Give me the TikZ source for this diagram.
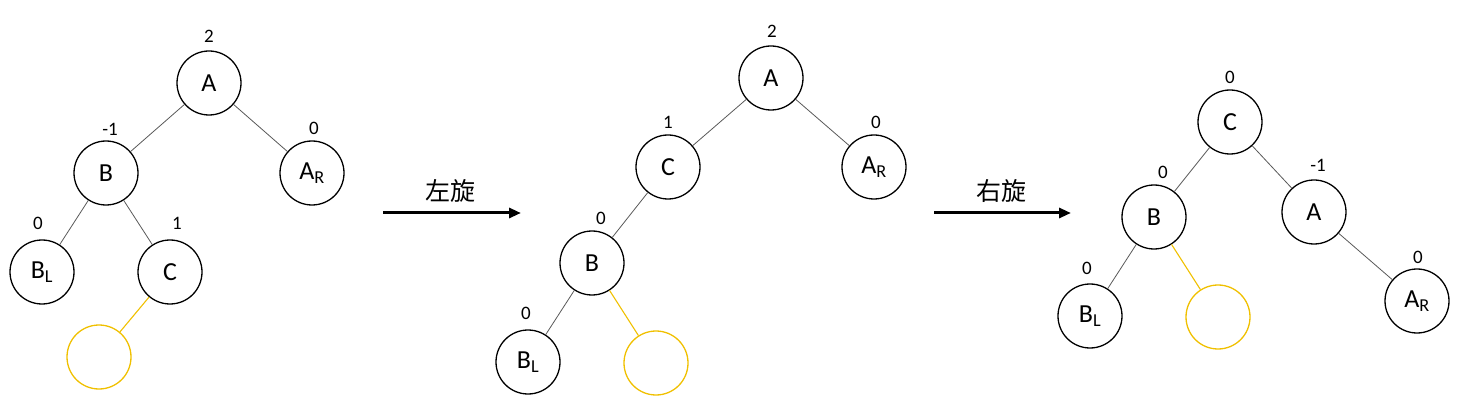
\documentclass[tikz,border=0pt]{standalone}
\usepackage{fontspec}
\setmainfont{Carlito}
\newfontfamily\cjk{Noto Sans CJK SC}
\usetikzlibrary{arrows.meta}

\definecolor{holeyellow}{RGB}{240,192,0}

\tikzset{
    vtx/.style={circle, draw=black, line width=1.3pt, minimum size=64pt, inner sep=0pt, font=\fontsize{26}{28}\selectfont},
    hole/.style={circle, draw=holeyellow, line width=1.3pt, minimum size=64pt, inner sep=0pt},
    bal/.style={inner sep=0pt, font=\fontsize{19}{21}\selectfont},
    edge/.style={draw=black!65, line width=0.8pt},
    holeedge/.style={draw=holeyellow, line width=1.1pt},
    rot/.style={line width=3pt, -{Triangle[length=12pt,width=10pt]}},
    rotlabel/.style={inner sep=0pt, font=\cjk\fontsize{25}{27}\selectfont}
}

\begin{document}
\begin{tikzpicture}[x=1pt, y=-1pt]
    \useasboundingbox (0,0) rectangle (1460,406);

    % Tree before rotation
    \node[vtx] (A1) at (209,83) {A};
    \node[vtx] (B1) at (106,173) {B};
    \node[vtx] (AR1) at (312,173) {A\textsubscript{R}};
    \node[vtx] (BL1) at (42,272) {B\textsubscript{L}};
    \node[vtx] (C1) at (170,272) {C};
    \node[hole] (H1) at (99,357) {};
    \node[bal] (bA1) at (209,36) {2};
    \node[bal] (bB1) at (110,129) {-1};
    \node[bal] (bAR1) at (314,128) {0};
    \node[bal] (bBL1) at (38,223) {0};
    \node[bal] (bC1) at (177,223) {1};
    \draw[edge] (A1) -- (B1);
    \draw[edge] (A1) -- (AR1);
    \draw[edge] (B1) -- (BL1);
    \draw[edge] (B1) -- (C1);
    \draw[holeedge] (C1) -- (H1);

    % Left rotation
    \coordinate (L1s) at (383,213);
    \coordinate (L1e) at (521,213);
    \draw[rot] (L1s) -- (L1e);
    \node[rotlabel] (L1) at (450,191) {左旋};

    % Tree after left rotation
    \node[vtx] (A2) at (771,78) {A};
    \node[vtx] (C2) at (668,167) {C};
    \node[vtx] (AR2) at (874,167) {A\textsubscript{R}};
    \node[vtx] (B2) at (592,263) {B};
    \node[vtx] (BL2) at (528,362) {B\textsubscript{L}};
    \node[hole] (H2) at (656,363) {};
    \node[bal] (bA2) at (772,31) {2};
    \node[bal] (bC2) at (668,122) {1};
    \node[bal] (bAR2) at (876,122) {0};
    \node[bal] (bB2) at (601,218) {0};
    \node[bal] (bBL2) at (526,313) {0};
    \draw[edge] (A2) -- (C2);
    \draw[edge] (A2) -- (AR2);
    \draw[edge] (C2) -- (B2);
    \draw[edge] (B2) -- (BL2);
    \draw[holeedge] (B2) -- (H2);

    % Right rotation
    \coordinate (R1s) at (934,213);
    \coordinate (R1e) at (1071,213);
    \draw[rot] (R1s) -- (R1e);
    \node[rotlabel] (R1) at (1001,191) {右旋};

    % Tree after right rotation
    \node[vtx] (C3) at (1230,122) {C};
    \node[vtx] (B3) at (1154,217) {B};
    \node[vtx] (A3) at (1314,212) {A};
    \node[vtx] (BL3) at (1090,316) {B\textsubscript{L}};
    \node[hole] (H3) at (1218,317) {};
    \node[vtx] (AR3) at (1417,301) {A\textsubscript{R}};
    \node[bal] (bC3) at (1230,77) {0};
    \node[bal] (bB3) at (1163,172) {0};
    \node[bal] (bA3) at (1318,165) {-1};
    \node[bal] (bBL3) at (1087,268) {0};
    \node[bal] (bAR3) at (1418,257) {0};
    \draw[edge] (C3) -- (B3);
    \draw[edge] (C3) -- (A3);
    \draw[edge] (B3) -- (BL3);
    \draw[edge] (A3) -- (AR3);
    \draw[holeedge] (B3) -- (H3);

\end{tikzpicture}
\end{document}
